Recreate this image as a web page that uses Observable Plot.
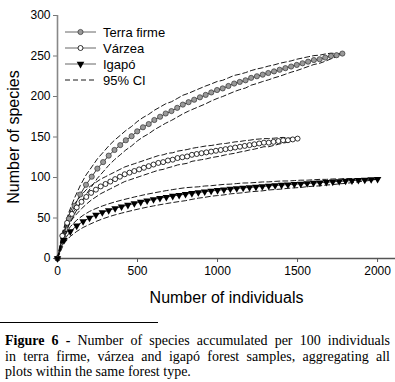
<!DOCTYPE html>
<html><head><meta charset="utf-8">
<script src="https://cdn.jsdelivr.net/npm/d3@7"></script>
<script src="https://cdn.jsdelivr.net/npm/@observablehq/plot@0.6"></script>
<style>
body{margin:0;background:#fff;font-family:"Liberation Sans",Arial,sans-serif;}
#fig{position:relative;width:395px;height:310px;}
#legend{position:absolute;left:0;top:0;}
#rule{width:158px;border-top:1px solid #000;margin-top:12px;}
#cap{font-family:"Liberation Serif","Times New Roman",serif;font-size:14px;line-height:15.7px;width:385px;margin:10px 0 0 5px;color:#000;}
#cap .j{text-align:justify;text-align-last:justify;white-space:nowrap;}
#cap .l{text-align:left;white-space:nowrap;}
</style></head><body>
<div id="fig"></div>
<div id="rule"></div>
<div id="cap">
<div class="j"><b>Figure 6 -</b> Number of species accumulated per 100 individuals</div>
<div class="j">in terra firme, várzea and igapó forest samples, aggregating all</div>
<div class="l">plots within the same forest type.</div>
</div>
<script>
const seriesNames = ["Terra firme", "Várzea", "Igapó"];
const ciName = "95% CI";
const xTicks = [0, 500, 1000, 1500, 2000];
const yTicks = [0, 50, 100, 150, 200, 250, 300];

// Terra firme
const tfX = [0,36,71,107,142,178,214,249,285,320,356,392,427,463,498,534,570,605,641,676,712,748,783,819,854,890,926,961,997,1032,1068,1104,1139,1175,1210,1246,1282,1317,1353,1388,1424,1460,1495,1531,1566,1602,1638,1673,1709,1744,1780];
const tfY = [0,28,49,65,79,91,101,111,119,127,134,140,146,151,157,162,166,171,175,179,182,186,190,193,196,199,202,205,208,210,213,216,218,220,223,225,227,229,231,233,235,237,239,241,243,245,246,248,250,251,253];
const tfCI = [0,5,8,10,11,12,12,12,12,12,12,12,12,12,12,12,12,12,12,12,11.5,11.5,11.5,11,11,11,11,10.5,10.5,10,10,10,9.5,9.5,9,9,8.5,8.5,8,8,7.5,7,7,6.5,6,5.5,5,4.5,3.5,2,0];

// Várzea
const vzX = [0,30,60,90,120,150,180,210,240,270,300,330,360,390,420,450,480,510,540,570,600,630,660,690,720,750,780,810,840,870,900,930,960,990,1020,1050,1080,1110,1140,1170,1200,1230,1260,1290,1320,1350,1380,1410,1440,1470,1500];
const vzY = [0,28,44,55,63,70,76,81,85,89,92,95,98,101,104,106,108,110,112,114,116,118,119,121,122,124,125,126,128,129,130,131,132,133,134,135,136,137,138,139,140,141,142,143,143,144,145,146,146,147,148];
const vzCI = [0,4,6,7,8,8.5,9,9,9,9,9,9,9,9,9,9,9,9,9,9,9,9,9,9,8.5,8.5,8.5,8.5,8,8,8,8,7.5,7.5,7.5,7,7,7,6.5,6.5,6,6,5.5,5,5,4.5,4,3.5,2.5,1.5,0];

// Igapó
const igX = [0,40,80,120,160,200,240,280,320,360,400,440,480,520,560,600,640,680,720,760,800,840,880,920,960,1000,1040,1080,1120,1160,1200,1240,1280,1320,1360,1400,1440,1480,1520,1560,1600,1640,1680,1720,1760,1800,1840,1880,1920,1960,2000];
const igY = [0,22.5,33.3,40.4,45.8,50.1,53.7,56.8,59.5,61.9,64.0,66.0,67.9,69.7,71.4,72.9,74.4,75.8,77.1,78.3,79.4,80.5,81.5,82.5,83.4,84.2,85.0,85.8,86.5,87.2,87.8,88.4,89.0,89.6,90.2,90.7,91.2,91.7,92.2,92.7,93.2,93.7,94.2,94.7,95.2,95.7,96.2,96.7,97.1,97.6,98.0];
const igCI = [0,4,6,7,7.5,8,8,8,8,8,8,8,8,8,8,8,8,8,8,8,8,7.5,7,7,6.5,6.5,6.5,6,6,6,5.5,5.5,5.5,5,5,5,4.5,4.5,4.5,4,4,4,3.5,3.5,3,3,2.5,2,1.5,1,0];

function rows(name, xs, ys, ci) {
  return xs.map((x, i) => ({series: name, x, y: ys[i], lo: ys[i] - ci[i], hi: ys[i] + ci[i]}));
}
const tf = rows(seriesNames[0], tfX, tfY, tfCI);
const vz = rows(seriesNames[1], vzX, vzY, vzCI);
const ig = rows(seriesNames[2], igX, igY, igCI);
const all = [...tf, ...vz, ...ig];

const font = "Liberation Sans, Arial, sans-serif";
const dash = "5,3";

const chart = Plot.plot({
  width: 395,
  height: 310,
  marginLeft: 57,
  marginRight: 0,
  marginTop: 15,
  marginBottom: 52,
  style: {fontFamily: font, background: "#fff", color: "#000", overflow: "visible"},
  x: {domain: [0, 2112]},
  y: {domain: [0, 300]},
  marks: [
    Plot.axisX({ticks: xTicks, tickFormat: d => String(d), tickSize: 4, tickPadding: 4, fontSize: 12, label: null, stroke: "#555"}),
    Plot.axisY({ticks: yTicks, tickFormat: d => String(d), tickSize: 4, tickPadding: 3, fontSize: 12, label: null, stroke: "#777"}),
    Plot.ruleY([0], {stroke: "#555", strokeWidth: 1.3}),
    Plot.ruleX([0], {stroke: "#888", strokeWidth: 1.6}),
    Plot.line(all, {x: "x", y: "lo", z: "series", stroke: "#000", strokeWidth: 0.9, strokeDasharray: dash}),
    Plot.line(all, {x: "x", y: "hi", z: "series", stroke: "#000", strokeWidth: 0.9, strokeDasharray: dash}),
    Plot.line(all, {x: "x", y: "y", z: "series", stroke: "#000", strokeWidth: 0.8}),
    Plot.dot(tf, {x: "x", y: "y", r: 2.6, fill: "#999", stroke: "#333", strokeWidth: 0.7}),
    Plot.dot(vz, {x: "x", y: "y", r: 2.5, fill: "#fff", stroke: "#000", strokeWidth: 0.8}),
    Plot.dot(ig, {x: "x", y: "y", r: 2.8, symbol: "triangle", rotate: 180, fill: "#000", stroke: "none"}),
    Plot.text(["Number of species"], {frameAnchor: "left", dx: -44, rotate: -90, fontSize: 16, textAnchor: "middle", lineAnchor: "middle", fill: "#000"}),
    Plot.text(["Number of individuals"], {frameAnchor: "bottom", dy: 39, fontSize: 16, textAnchor: "middle", lineAnchor: "middle", fill: "#000"})
  ]
});
const fig = document.getElementById("fig");
fig.appendChild(chart);

// legend overlay
const leg = d3.select(fig).append("svg").attr("id", "legend").attr("width", 200).attr("height", 100)
  .style("font-family", font);
const items = [
  {name: seriesNames[0], kind: "tf"},
  {name: seriesNames[1], kind: "vz"},
  {name: seriesNames[2], kind: "ig"},
  {name: ciName, kind: "ci"}
];
items.forEach((it, i) => {
  const cy = 32 + i * 16;
  const g = leg.append("g");
  if (it.kind === "ci") {
    g.append("line").attr("x1", 65).attr("x2", 96).attr("y1", cy).attr("y2", cy)
      .attr("stroke", "#000").attr("stroke-width", 0.9).attr("stroke-dasharray", "5,3");
  } else {
    g.append("line").attr("x1", 65).attr("x2", 96).attr("y1", cy).attr("y2", cy)
      .attr("stroke", "#555").attr("stroke-width", 0.9);
    if (it.kind === "tf") g.append("circle").attr("cx", 80.5).attr("cy", cy).attr("r", 2.6).attr("fill", "#999").attr("stroke", "#333").attr("stroke-width", 0.7);
    if (it.kind === "vz") g.append("circle").attr("cx", 80.5).attr("cy", cy).attr("r", 2.5).attr("fill", "#fff").attr("stroke", "#000").attr("stroke-width", 0.8);
    if (it.kind === "ig") g.append("path").attr("d", d3.symbol(d3.symbolTriangle, 25)()).attr("transform", `translate(80.5,${cy}) rotate(180)`).attr("fill", "#000");
  }
  g.append("text").attr("x", 103).attr("y", cy).attr("dy", "0.35em").attr("font-size", 13).attr("fill", "#000").text(it.name);
});
</script>
</body></html>
